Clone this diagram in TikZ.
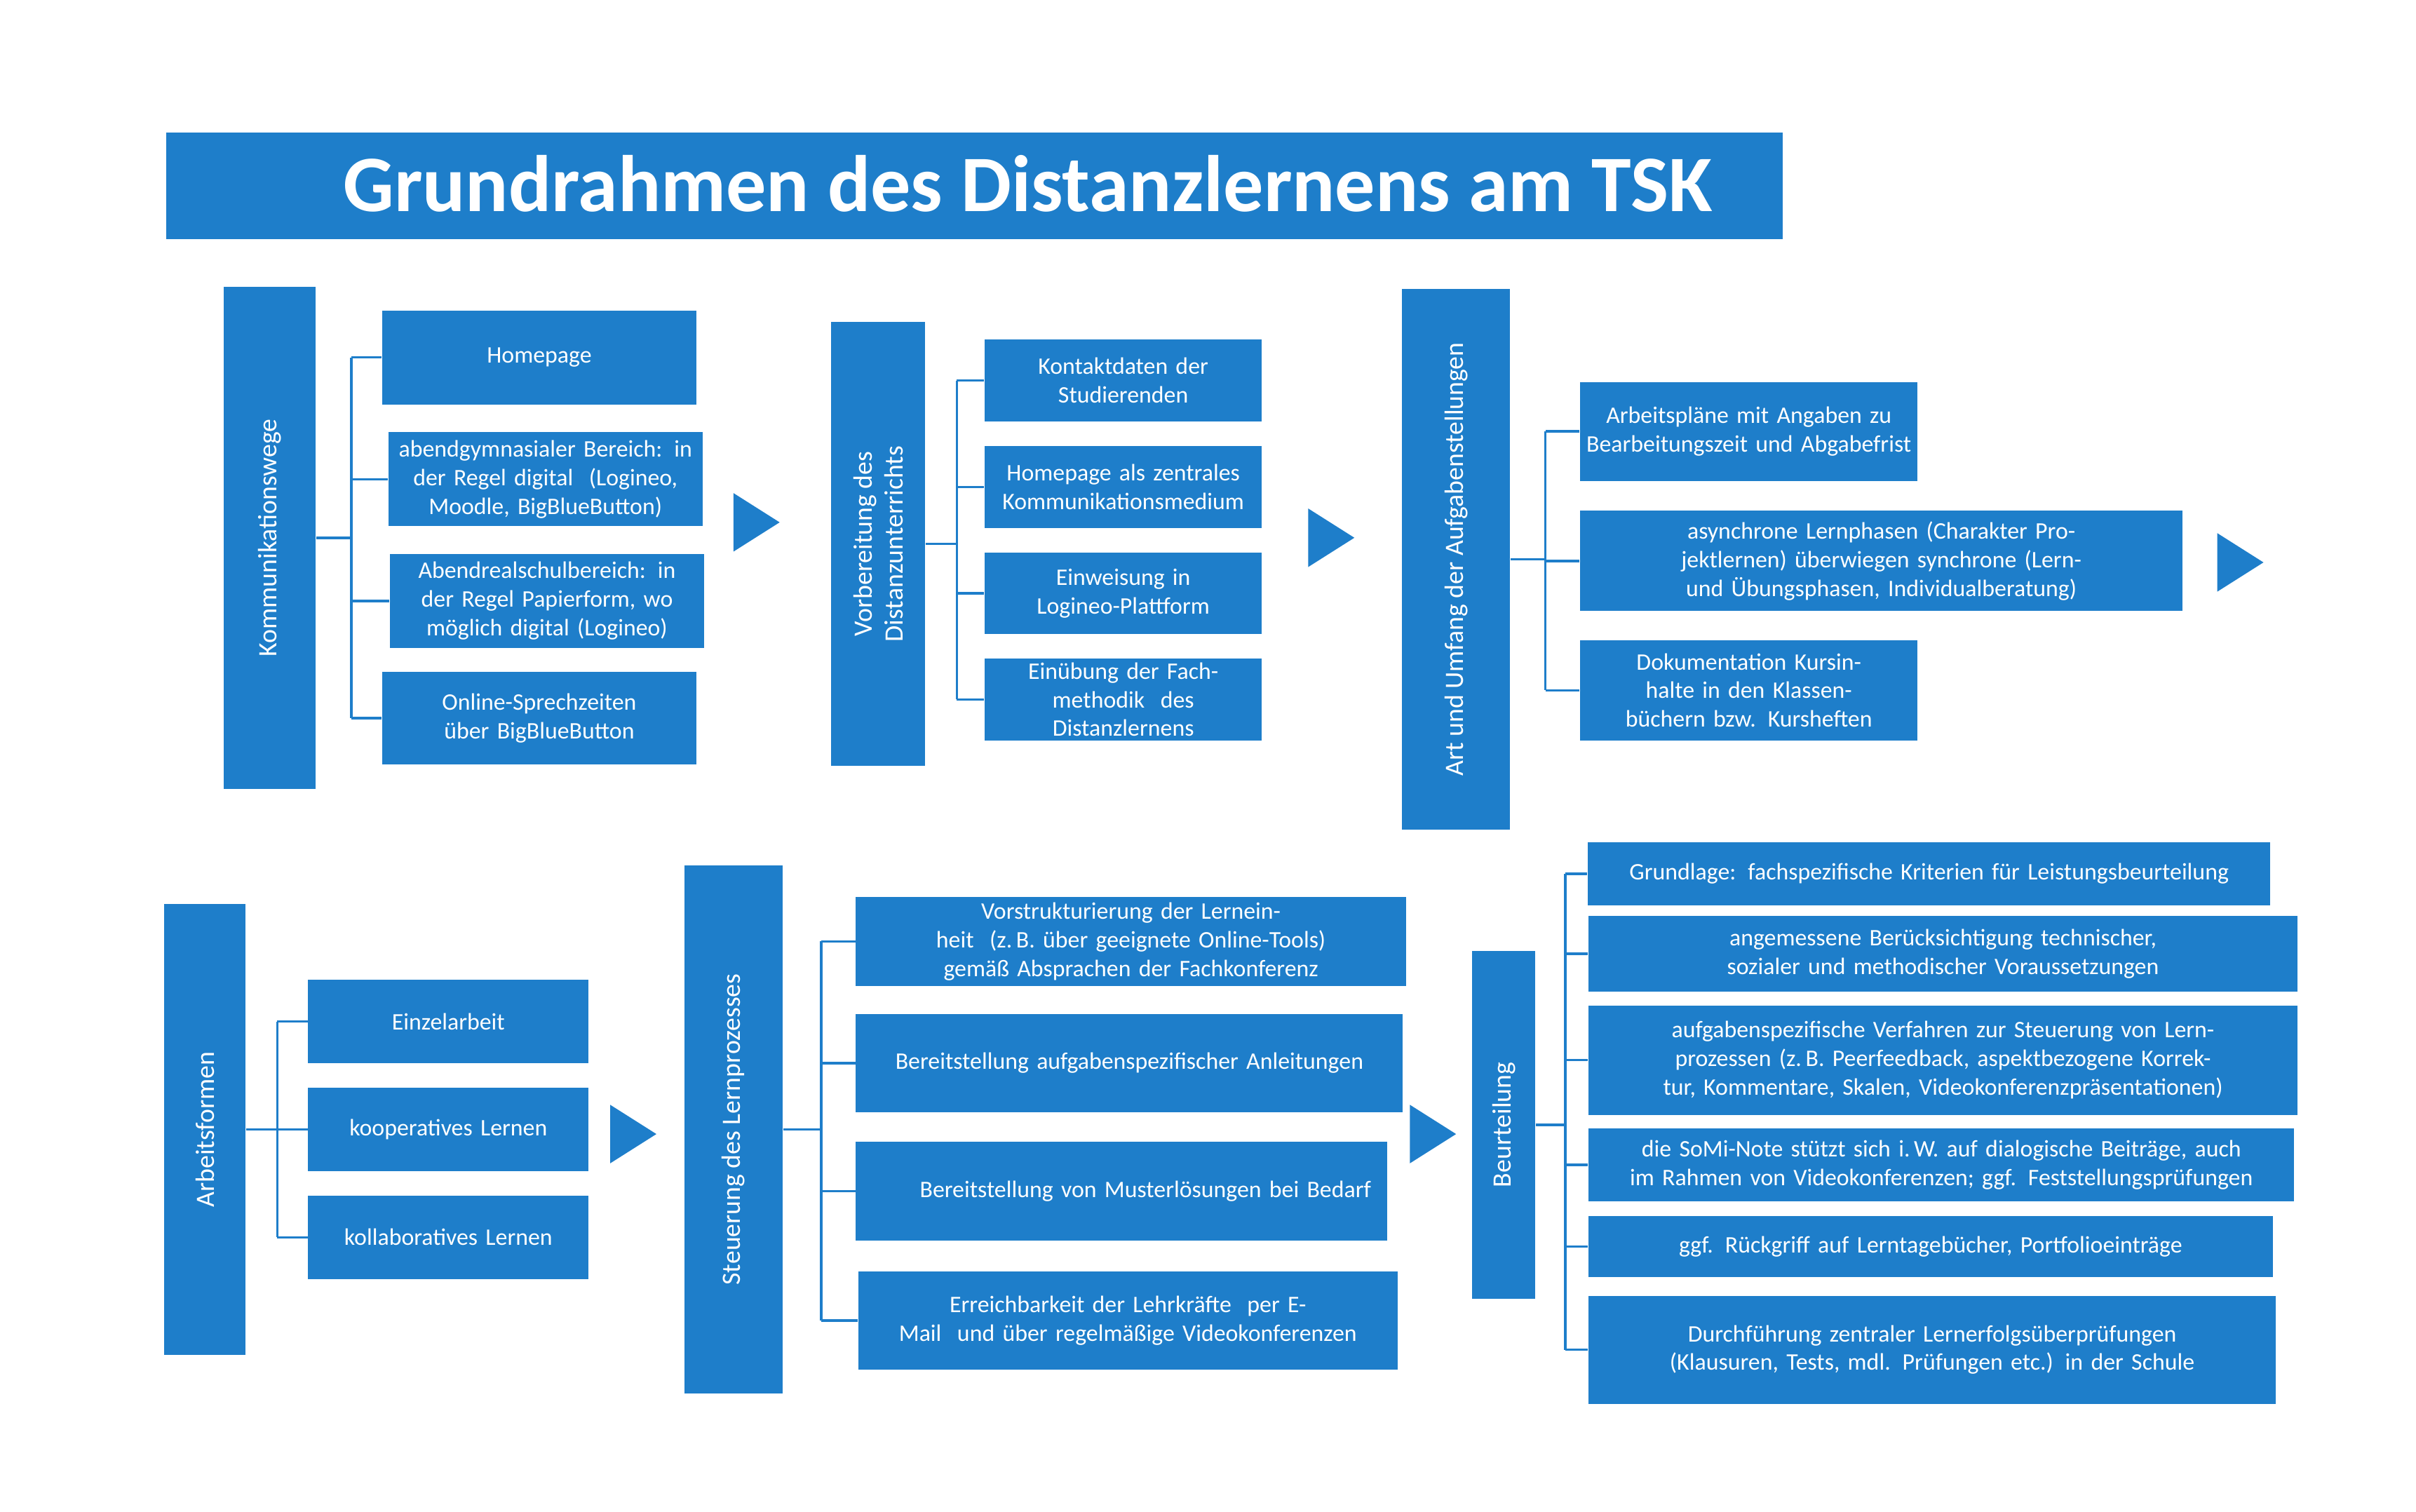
\documentclass[tikz,border=0pt]{standalone}
\usepackage{fontspec}
\setmainfont{Carlito}
\definecolor{tb}{RGB}{30,126,202}
\newcommand\bx[6]{\pgfmathsetlengthmacro\tw{(#4-8)*0.5pt}%
\node[bx,minimum width=#4*0.5pt,minimum height=#5*0.5pt,text width=\tw] (#1) at (#2,#3) {#6};}
\newcommand\vbx[6]{%
\node[bx,rotate=90,minimum width=#5*0.5pt,minimum height=#4*0.5pt,font=\fontsize{8.6}{10}\selectfont] (#1) at (#2,#3) {#6};}
\newcommand\tri[2]{\fill[tb] (#1-15,#2-19) -- (#1+15,#2) -- (#1-15,#2+19) -- cycle;}
\newcommand\brk[4]{% parent, x, first, last
\coordinate (#1x) at (#2,0);
\draw[ln] (#1) -- (#1x |- #1);
\draw[ln] (#1x |- #3.west) -- (#1x |- #4.west);}
\newcommand\tick[2]{\draw[ln] (#1x |- #2.west) -- (#2.west);}
\begin{document}
\begin{tikzpicture}[x=0.5pt,y=-0.5pt,
 bx/.style={fill=tb,text=white,align=center,inner sep=1pt,font=\fontsize{7.7}{9.3}\selectfont},
 ln/.style={draw=tb,line width=0.8pt}]
\useasboundingbox[fill=white] (0,0) rectangle (1568,981);
% title
\fill[tb] (108,86) rectangle (1157,155);
\node[text=white,font=\fontsize{26}{30}\selectfont\bfseries] (title) at (667,119) {Grundrahmen des Distanzlernens am TSK};
% row 1
\vbx{komm}{175}{349}{60}{326}{Kommunikationswege}
\bx{home}{350}{232}{204}{61}{Homepage}
\bx{abg}{354}{311}{204}{61}{abendgymnasialer Bereich: in der Regel digital~ (Logineo, Moodle, BigBlueButton)}
\bx{ars}{355}{390}{204}{61}{Abendrealschulbereich: in der Regel Papierform, wo möglich digital (Logineo)}
\bx{onl}{350}{466}{204}{60}{Online-Sprechzeiten über BigBlueButton}
\brk{komm}{228}{home}{onl}
\tick{komm}{home}\tick{komm}{abg}\tick{komm}{ars}\tick{komm}{onl}
\tri{491}{339}
\node[bx,rotate=90,minimum width=288*0.5pt,minimum height=61*0.5pt,font=\fontsize{8.6}{10}\selectfont,align=center] (vorb) at (570,353) {Vorbereitung des\\Distanzunterrichts};
\bx{kon}{729}{247}{180}{53}{Kontaktdaten der Studierenden}
\bx{hzk}{729}{316}{180}{53}{Homepage als zentrales Kommunikationsmedium}
\bx{ein}{729}{385}{180}{53}{Einweisung in Logineo-Plattform}
\bx{eub}{729}{454}{180}{53}{Einübung der Fachmethodik~ des Distanzlernens}
\brk{vorb}{621}{kon}{eub}
\tick{vorb}{kon}\tick{vorb}{hzk}\tick{vorb}{ein}\tick{vorb}{eub}
\tri{864}{349}
\vbx{art}{945}{363}{70}{351}{Art und Umfang der Aufgabenstellungen}
\bx{apl}{1135}{280}{219}{64}{Arbeitspläne mit Angaben zu Bearbeitungszeit und Abgabefrist}
\bx{asy}{1221}{364}{391}{65}{asynchrone Lernphasen (Charakter Projektlernen) überwiegen synchrone (Lern- und Übungsphasen, Individualberatung)}
\bx{dok}{1135}{448}{219}{65}{Dokumentation Kursinhalte in den Klassenbüchern bzw. Kursheften}
\brk{art}{1003}{apl}{dok}
\tick{art}{apl}\tick{art}{asy}\tick{art}{dok}
\tri{1454}{365}
% row 2
\vbx{arb}{133}{733}{53}{293}{Arbeitsformen}
\bx{ez}{291}{663}{182}{54}{Einzelarbeit}
\bx{koo}{291}{733}{182}{54}{kooperatives Lernen}
\bx{kol}{291}{803}{182}{54}{kollaboratives Lernen}
\brk{arb}{180}{ez}{kol}
\tick{arb}{ez}\tick{arb}{koo}\tick{arb}{kol}
\tri{411}{736}
\vbx{ste}{476}{733}{64}{343}{Steuerung des Lernprozesses}
\bx{vst}{734}{611}{357}{58}{Vorstrukturierung der Lerneinheit~ (z.\,B. über geeignete Online-Tools) gemäß Absprachen der Fachkonferenz}
\bx{bra}{733}{690}{355}{64}{Bereitstellung aufgabenspezifischer Anleitungen}
\bx{bml}{728}{773}{345}{64}{\hspace*{2em}Bereitstellung von Musterlösungen bei Bedarf}
\bx{erl}{732}{857}{350}{64}{Erreichbarkeit der Lehrkräfte~ per E-Mail~ und über regelmäßige Videokonferenzen}
\brk{ste}{533}{vst}{erl}
\tick{ste}{vst}\tick{ste}{bra}\tick{ste}{bml}\tick{ste}{erl}
\tri{930}{736}
\vbx{beu}{976}{730}{41}{226}{Beurteilung}
\bx{gru}{1252}{567}{443}{41}{Grundlage: fachspezifische Kriterien für Leistungsbeurteilung}
\bx{ang}{1261}{619}{460}{49}{angemessene Berücksichtigung technischer, sozialer und methodischer Voraussetzungen}
\bx{auf}{1261}{688}{460}{71}{aufgabenspezifische Verfahren zur Steuerung von Lernprozessen (z.\,B. Peerfeedback, aspektbezogene Korrektur, Kommentare, Skalen, Videokonferenzpräsentationen)}
\bx{som}{1260}{756}{458}{47}{die SoMi-Note stützt sich i.\,W. auf dialogische Beiträge, auch im Rahmen von Videokonferenzen; ggf. Feststellungsprüfungen}
\bx{ggf}{1253}{809}{444}{40}{ggf. Rückgriff auf Lerntagebücher, Portfolioeinträge}
\bx{dur}{1254}{876}{446}{70}{Durchführung zentraler Lernerfolgsüberprüfungen (Klausuren, Tests, mdl. Prüfungen etc.) in der Schule}
\brk{beu}{1016}{gru}{dur}
\tick{beu}{gru}\tick{beu}{ang}\tick{beu}{auf}\tick{beu}{som}\tick{beu}{ggf}\tick{beu}{dur}
\end{tikzpicture}
\end{document}
